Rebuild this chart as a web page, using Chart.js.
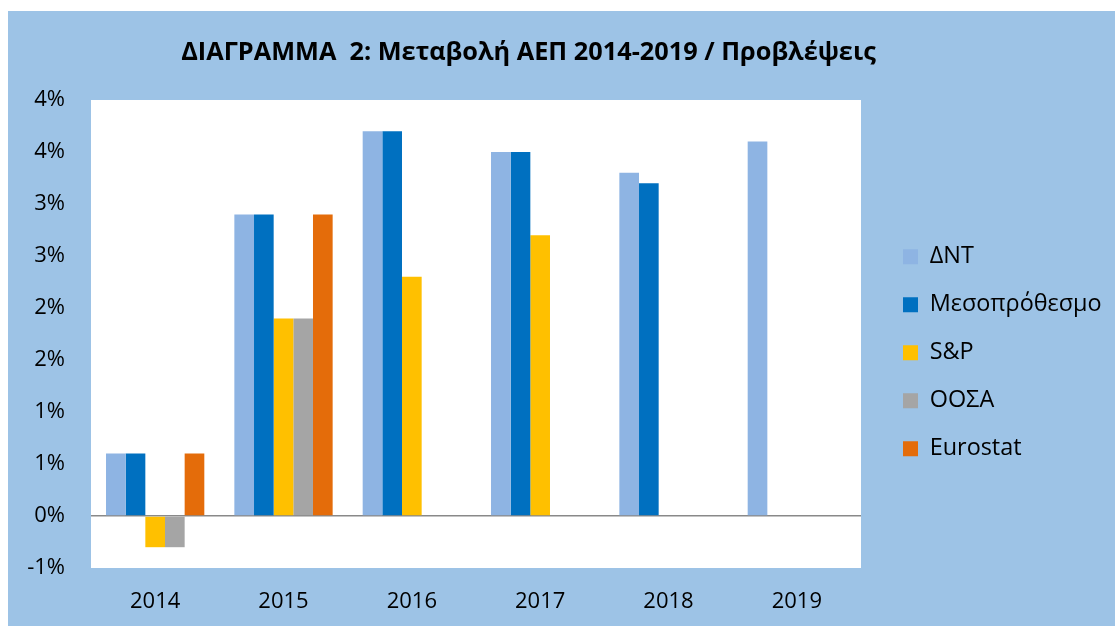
<!DOCTYPE html>
<html>
<head>
<meta charset="utf-8">
<script src="https://cdn.jsdelivr.net/npm/chart.js@4.4.1/dist/chart.umd.min.js"></script>
<style>
  html, body { margin: 0; padding: 0; background: #ffffff; }
  #wrap { position: absolute; left: 8px; top: 11px; width: 1107px; height: 615px; background: #9DC3E6; }
  canvas { display: block; }
</style>
</head>
<body>
<div id="wrap"><canvas id="c" width="1107" height="615"></canvas></div>
<script>
// ---- data ----
const years = ['2014', '2015', '2016', '2017', '2018', '2019'];
const seriesNames = ['ΔΝΤ', 'Μεσοπρόθεσμο', 'S&P', 'ΟΟΣΑ', 'Eurostat'];
const dnt = [0.6, 2.9, 3.7, 3.5, 3.3, 3.6];
const meso = [0.6, 2.9, 3.7, 3.5, 3.2, null];
const sp = [-0.3, 1.9, 2.3, 2.7, null, null];
const oosa = [-0.3, 1.9, null, null, null, null];
const eurostat = [0.6, 2.9, null, null, null, null];
const yMin = -0.5, yMax = 4, yStep = 0.5;
const titleText = 'ΔΙΑΓΡΑΜΜΑ  2: Μεταβολή ΑΕΠ 2014-2019 / Προβλέψεις';

// ---- styles ----
const colors = ['#8EB4E3', '#0070C0', '#FFC000', '#A5A5A5', '#E46C0A'];
const FONT = '"Open Sans", "Noto Sans", sans-serif';
const canvas = document.getElementById('c');
const mctx = canvas.getContext('2d');
function fitSize(text, weight, target) {
  mctx.font = weight + ' 100px ' + FONT;
  return 100 * target / mctx.measureText(text).width;
}
const titleSize = fitSize(titleText, 'bold', 695);
const legendSize = fitSize('Μεσοπρόθεσμο', 'normal', 172);
const tickSize = 22;

// layout targets (canvas coordinates)
const areaLeft = 83, areaRight = 853, areaTop = 89, areaBottom = 557;
const legendBox = 15;
const legendItemH = Math.max(legendSize, legendBox);
const legendPad = 48 - legendItemH;
mctx.font = 'normal ' + legendSize + 'px ' + FONT;
let maxTextW = 0;
seriesNames.forEach(n => { maxTextW = Math.max(maxTextW, mctx.measureText(n).width); });
const legendW = legendPad + legendBox + legendSize / 2 + maxTextW + 10;
const padRight = Math.max(0, canvas.width - areaRight - legendW);

const dataSets = [dnt, meso, sp, oosa, eurostat].map((d, i) => ({
  label: seriesNames[i],
  data: d,
  backgroundColor: colors[i],
  borderWidth: 0,
  categoryPercentage: 0.766,
  barPercentage: 1.0
}));

const plotBg = {
  id: 'plotBg',
  beforeDraw(chart) {
    const a = chart.chartArea, c = chart.ctx;
    c.save(); c.fillStyle = '#ffffff';
    c.fillRect(a.left, a.top, a.right - a.left, a.bottom - a.top);
    c.restore();
  }
};
const customTitle = {
  id: 'customTitle',
  afterDraw(chart) {
    const c = chart.ctx;
    c.save();
    c.font = 'bold ' + titleSize + 'px ' + FONT;
    c.fillStyle = '#000000';
    c.textAlign = 'center';
    c.textBaseline = 'alphabetic';
    c.fillText(titleText, 520.5, 49);
    c.restore();
  }
};
const legendPlace = {
  id: 'legendPlace',
  afterLayout(chart) {
    const lg = chart.legend;
    if (!lg) return;
    lg.left = 895 - legendPad;
    lg.right = lg.left + legendW;
    const firstCenter = 245.7;
    lg.top = firstCenter - legendItemH / 2 - legendPad;
  }
};

new Chart(canvas, {
  type: 'bar',
  data: { labels: years, datasets: dataSets },
  options: {
    responsive: false,
    animation: false,
    layout: { padding: { left: 0, right: padRight, top: areaTop, bottom: 0 } },
    plugins: {
      title: { display: false },
      tooltip: { enabled: false },
      legend: {
        position: 'right',
        align: 'start',
        labels: {
          boxWidth: legendBox, boxHeight: legendBox, padding: legendPad,
          color: '#000000',
          font: { family: FONT, size: legendSize }
        }
      }
    },
    scales: {
      x: {
        grid: { display: false, drawTicks: false },
        border: { display: false },
        ticks: { color: '#000000', padding: 21, font: { family: FONT, size: tickSize } },
        afterFit(scale) { scale.height = canvas.height - areaBottom; }
      },
      y: {
        min: yMin, max: yMax,
        grid: {
          drawTicks: false,
          color: ctx => (ctx.tick && ctx.tick.value === 0) ? '#898989' : 'rgba(0,0,0,0)',
          lineWidth: ctx => (ctx.tick && ctx.tick.value === 0) ? 1.5 : 0
        },
        border: { display: false },
        ticks: {
          stepSize: yStep, padding: 26, color: '#000000',
          font: { family: FONT, size: tickSize },
          callback: v => (Math.sign(v) * Math.round(Math.abs(v))) + '%'
        },
        afterFit(scale) { scale.width = areaLeft; }
      }
    }
  },
  plugins: [plotBg, customTitle, legendPlace]
});
</script>
</body>
</html>
